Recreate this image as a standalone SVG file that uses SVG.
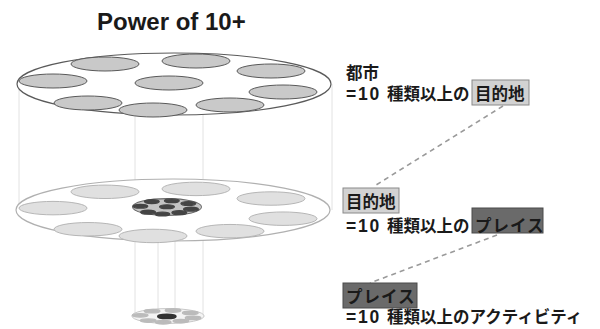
<svg xmlns="http://www.w3.org/2000/svg" xmlns:xlink="http://www.w3.org/1999/xlink" width="600" height="329" viewBox="0 0 600 329">
<style>
.t{font-family:"Liberation Sans","Noto Sans CJK JP",sans-serif;font-weight:bold;fill:#1a1a1a}
.lbl{font-size:16.5px}
.num{font-size:17.5px;letter-spacing:1.8px}
.guide{stroke:#e2e2e2;stroke-width:1;fill:none}
.dash{stroke:#9a9a9a;stroke-width:1.6;stroke-dasharray:5 4;fill:none}
.topb{fill:#c9c9c9;stroke:#5a5a5a;stroke-width:1}
.midb{fill:#e0e0e0;stroke:#b4b4b4;stroke-width:1}
.boxL{fill:#d2d2d2;stroke:#8a8a8a;stroke-width:1}
.boxD{fill:#6a6a6a;stroke:#4a4a4a;stroke-width:1}
</style>
<defs>
<g id="blobs">
<ellipse cx="-69" cy="-20" rx="34" ry="7"/>
<ellipse cx="22" cy="-23" rx="34" ry="7"/>
<ellipse cx="97" cy="-13" rx="34" ry="7"/>
<ellipse cx="-121" cy="-3" rx="34" ry="7"/>
<ellipse cx="109" cy="8" rx="34" ry="7"/>
<ellipse cx="-86" cy="19" rx="34" ry="7"/>
<ellipse cx="-21" cy="26" rx="34" ry="7"/>
<ellipse cx="56" cy="21" rx="34" ry="7"/>
</g>
</defs>
<rect width="600" height="329" fill="#ffffff"/>

<g id="title">
<text class="t" x="97" y="30" font-size="24">Power of 10+</text>
</g>

<g id="connectors">
<line class="guide" x1="19" y1="84" x2="19" y2="210"/>
<line class="guide" x1="135" y1="84" x2="135" y2="210"/>
<line class="guide" x1="203" y1="84" x2="203" y2="210"/>
<line class="guide" x1="332" y1="84" x2="332" y2="210"/>
<line class="guide" x1="135" y1="210" x2="135" y2="316"/>
<line class="guide" x1="158" y1="210" x2="158" y2="316"/>
<line class="guide" x1="175" y1="210" x2="175" y2="316"/>
<line class="guide" x1="203" y1="210" x2="203" y2="316"/>
<line class="dash" x1="503" y1="106" x2="376" y2="185"/>
<line class="dash" x1="497" y1="235" x2="370" y2="283"/>
</g>

<g id="plate-city">
<ellipse cx="174" cy="84" rx="157" ry="31" fill="#ffffff" stroke="#5a5a5a" stroke-width="1.2"/>
<g class="topb">
<use xlink:href="#blobs" transform="translate(174,84)"/>
<ellipse cx="169" cy="83" rx="34" ry="7"/>
</g>
</g>

<g id="plate-destination">
<ellipse cx="173" cy="210" rx="157" ry="31" fill="#ffffff" stroke="#b0b0b0" stroke-width="1.2"/>
<g class="midb">
<use xlink:href="#blobs" transform="translate(174,211) scale(1,0.96)"/>
</g>
<g transform="translate(167,207) scale(0.22,0.27)">
<ellipse cx="0" cy="0" rx="157" ry="31" fill="#c4c4c4" stroke="#666" stroke-width="4"/>
<g fill="#444" stroke="#444" stroke-width="5"><use xlink:href="#blobs"/><ellipse cx="0" cy="-1" rx="34" ry="7"/></g>
</g>
</g>

<g id="plate-place">
<g transform="translate(168,316) scale(0.23,0.24)">
<ellipse cx="0" cy="0" rx="157" ry="31" fill="#f4f4f4" stroke="#c4c4c4" stroke-width="4"/>
<g fill="#bbbbbb" stroke="#bbbbbb" stroke-width="6"><use xlink:href="#blobs"/></g>
<ellipse cx="-5" cy="2" rx="40" ry="9" fill="#333" stroke="#333" stroke-width="6"/>
</g>
</g>

<g id="label-city">
<rect class="boxL" x="472" y="80" width="57" height="25"/>
<text class="t lbl" x="346" y="79">都市</text>
<text class="t lbl" y="100"><tspan class="num" x="346">=10</tspan><tspan x="387">種類以上の</tspan><tspan x="475">目的地</tspan></text>
</g>

<g id="label-destination">
<rect class="boxL" x="343" y="188" width="56" height="25"/>
<rect class="boxD" x="472" y="208" width="71" height="25"/>
<text class="t lbl" x="346" y="208">目的地</text>
<text class="t lbl" y="232"><tspan class="num" x="346">=10</tspan><tspan x="387">種類以上の</tspan><tspan x="475" letter-spacing="1">プレイス</tspan></text>
</g>

<g id="label-place">
<rect class="boxD" x="343" y="283" width="74" height="25"/>
<text class="t lbl" x="346" y="303" letter-spacing="1">プレイス</text>
<text class="t lbl" y="323"><tspan class="num" x="346">=10</tspan><tspan x="387">種類以上のアクティビティ</tspan></text>
</g>
</svg>
